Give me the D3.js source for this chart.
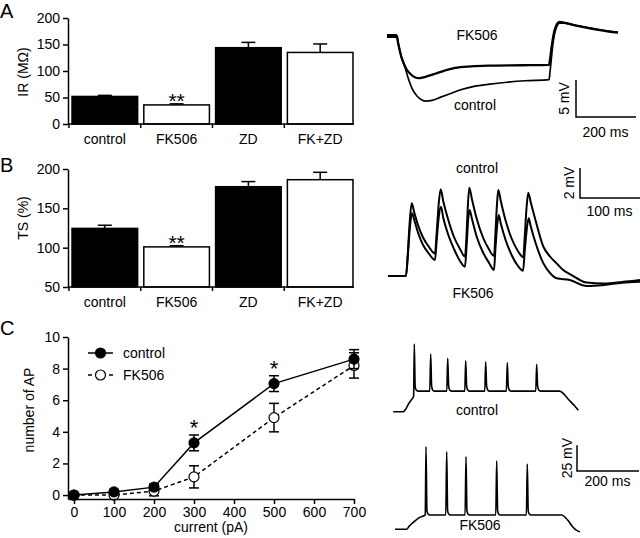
<!DOCTYPE html>
<html><head><meta charset="utf-8">
<script src="https://cdn.jsdelivr.net/npm/d3@7"></script>
<style>
body{margin:0;background:#fff}
svg{display:block}
text{font-family:"Liberation Sans",Arial,Helvetica,sans-serif;fill:#000}
</style>
</head><body>
<svg id="c" width="640" height="538"></svg>
<script>
// ---------------- DATA ----------------
const groups = ["control", "FK506", "ZD", "FK+ZD"];
const irMean = [52, 36, 144, 135];
const irErr = [2, 2, 10, 16];
const irTicks = [0, 50, 100, 150, 200];
const tsMean = [124.5, 101, 177.5, 186.4];
const tsErr = [4, 1.5, 6.5, 9.4];
const tsTicks = [50, 100, 150, 200];

const currents = [0, 100, 200, 300, 500, 700];
const apControl = [0, 0.2, 0.5, 3.3, 7.05, 8.6];
const apControlErr = [0.1, 0.15, 0.2, 0.5, 0.5, 0.6];
const apFK = [0, 0.0, 0.25, 1.15, 4.9, 8.2];
const apFKErr = [0.05, 0.1, 0.3, 0.7, 0.9, 0.8];
const currentTicks = [0, 100, 200, 300, 400, 500, 600, 700];
const apTicks = [0, 2, 4, 6, 8, 10];
const apSig = [300, 500];

// traces: [time ms, mV]
const traceA_FK = [[0,0],[33,0],[36,-0.7],[40,-1.5],[47,-2.7],[55,-3.6],[65,-4.5],[80,-5.2],[95,-5.6],[105,-5.7],[120,-5.6],[137,-5.4],[160,-5.1],[190,-4.7],[227,-4.3],[280,-4.1],[350,-4.0],[450,-3.95],[540,-3.9],[543,-3.3],[547,-2.0],[552,-0.6],[558,0.7],[565,1.5],[575,1.9],[590,1.8],[620,1.5],[660,1.15],[700,0.85],[740,0.6],[770,0.45]];
const traceA_ctrl = [[0,0],[33,0],[36,-0.7],[40,-1.5],[47,-2.7],[53,-3.5],[59,-4.1],[70,-5.6],[85,-7.2],[100,-8.1],[115,-8.6],[130,-8.8],[150,-8.7],[177,-8.3],[210,-7.8],[243,-7.3],[290,-6.8],[343,-6.5],[400,-6.25],[460,-6.05],[540,-5.9],[543,-5.0],[547,-3.4],[552,-1.4],[558,0.2],[565,1.2],[575,1.75],[590,1.75],[620,1.5],[660,1.2],[700,0.9],[740,0.65],[770,0.5]];

const traceB_ctrl = [[0,0],[30,0],[33,1.5],[36,3.5],[39.5,4.85],[44,4.2],[50,3.4],[58,2.6],[68,1.95],[78.3,1.5],[81,2.8],[84.5,4.8],[87.8,5.78],[92,5.0],[100,3.8],[110,2.6],[120,1.8],[128.3,1.3],[131,2.8],[133,4.6],[135.5,5.89],[140,5.1],[148,3.8],[158,2.6],[168,1.8],[176.7,1.33],[179,2.8],[181.5,4.7],[183.8,5.73],[188,5.0],[196,3.7],[206,2.5],[216,1.7],[225.5,1.25],[228,2.7],[231,4.6],[233.8,5.55],[238,4.9],[246,3.7],[259,1.95],[270,1.3],[281,0.84],[292,0.4],[303,0.13],[317,-0.2],[331,-0.44],[360,-0.5],[390,-0.4],[420,-0.27]];
const traceB_FK = [[0,0],[30,0],[33,1.3],[36,3.0],[40,4.18],[44,3.7],[50,2.9],[58,2.1],[68,1.5],[78.3,1.07],[81,2.3],[84.5,3.9],[88.3,4.62],[92,3.9],[100,2.8],[110,1.8],[120,1.0],[128.3,0.62],[131,2.0],[133.5,3.7],[136,4.4],[140,3.8],[148,2.6],[158,1.6],[168,0.9],[176.7,0.4],[179,1.8],[182,3.4],[184.5,4.07],[188,3.5],[196,2.4],[206,1.4],[216,0.7],[225,0.35],[228,1.7],[231.5,3.2],[234.5,3.85],[238,3.3],[246,2.2],[259,0.84],[270,0.2],[281,-0.15],[303,-0.27],[331,-0.67],[360,-0.6],[390,-0.45],[420,-0.38]];

const traceC_ctrl = [[1,0],[33,0],[42,3],[50,7.5],[58,11],[64,13.5],[66.5,15],[68.7,65.7],[71.5,24],[75,21],[80,20],
 [118.6,20],[121.6,56],[124.6,25],[128,21],[133,20],
 [173.5,20],[176.5,51.8],[179.5,25],[183,21],[188,20],
 [231.5,20],[234.5,49.5],[237.5,25],[241,21],[246,20],
 [296,20],[299,48.5],[302,25],[305.5,21],[310,20],
 [365.7,20],[368.7,47.6],[371.7,25],[375,21],[380,20],
 [460.5,20],[463.5,46],[466.5,25],[470,21],[475,20],
 [538,20],[548,18],[560,14],[572,10],[585,6],[598,1.5]];
const traceC_FK = [[6.5,0],[44,0],[52,3],[64.5,6.5],[76,9.5],[88,11.8],[100,13.2],[104,13.9],[106.5,80.2],[109.5,18],[113,14.8],[118,13.9],
 [170.2,13.9],[173.2,75.3],[176.2,18],[179.7,14.8],[185,13.9],
 [232.5,13.9],[235.5,70.5],[238.5,18],[242,14.8],[247,13.9],
 [331.5,13.9],[334.5,66.6],[337.5,18],[341,14.8],[346,13.9],
 [430.2,13.9],[433.2,63.3],[436.2,18],[439.7,14.8],[445,13.9],
 [544,13.9],[554,12],[566,8],[578,3],[590,-0.5],[603,-2.5]];

// ---------------- DRAW ----------------
const svg = d3.select("#c");
const FS = 14;

function letter(t, y) {
  svg.append("text").attr("x", 0).attr("y", y).attr("font-size", 20).text(t);
}

function barPanel(means, errs, yDom, yRng, ticks, yLabel, labelCY, xLabY) {
  const g = svg.append("g");
  const x = d3.scaleBand().domain(groups).range([68, 357]).paddingInner(0.086).paddingOuter(0.056);
  const y = d3.scaleLinear().domain(yDom).range(yRng);
  const gap = x.step() * x.paddingInner();
  g.selectAll("rect").data(groups).join("rect")
    .attr("x", d => x(d)).attr("width", x.bandwidth())
    .attr("y", (d, i) => y(means[i])).attr("height", (d, i) => y(yDom[0]) - y(means[i]))
    .attr("fill", (d, i) => i % 2 ? "#fff" : "#000")
    .attr("stroke", "#000").attr("stroke-width", 1.5);
  groups.forEach((d, i) => {
    const cx = x(d) + x.bandwidth() / 2;
    g.append("line").attr("x1", cx).attr("x2", cx).attr("y1", y(means[i])).attr("y2", y(means[i] + errs[i]))
      .attr("stroke", "#000").attr("stroke-width", 1.5);
    g.append("line").attr("x1", cx - 7).attr("x2", cx + 7).attr("y1", y(means[i] + errs[i])).attr("y2", y(means[i] + errs[i]))
      .attr("stroke", "#000").attr("stroke-width", 1.5);
  });
  const fi = 1;
  g.append("text").attr("x", x(groups[fi]) + x.bandwidth() / 2).attr("y", y(means[fi] + errs[fi]) + 4)
    .attr("text-anchor", "middle").attr("font-size", 21).text("**");
  const ya = g.append("g").attr("transform", "translate(68,0)")
    .call(d3.axisLeft(y).tickValues(ticks).tickSize(5).tickSizeOuter(0).tickPadding(3));
  ya.selectAll("path,line").attr("stroke", "#000").attr("stroke-width", 1.5);
  ya.selectAll("text").attr("font-size", FS).attr("font-family", null);
  const by = y(yDom[0]);
  g.append("line").attr("x1", 68).attr("x2", 354).attr("y1", by).attr("y2", by).attr("stroke", "#000").attr("stroke-width", 1.5);
  groups.forEach(d => {
    const tx = x(d) - gap / 2;
    g.append("line").attr("x1", tx).attr("x2", tx).attr("y1", by).attr("y2", by + 4).attr("stroke", "#000").attr("stroke-width", 1.5);
    g.append("text").attr("x", x(d) + x.bandwidth() / 2).attr("y", xLabY).attr("text-anchor", "middle").attr("font-size", FS).text(d);
  });
  g.append("text").attr("transform", `translate(28,${labelCY}) rotate(-90)`).attr("text-anchor", "middle").attr("font-size", FS).text(yLabel);
}

letter("A", 18);
barPanel(irMean, irErr, [0, 200], [124, 18], irTicks, "IR (MΩ)", 72, 144);
letter("B", 171.5);
barPanel(tsMean, tsErr, [50, 200], [287, 169], tsTicks, "TS (%)", 218, 306.5);
letter("C", 334.5);

// ---- panel C line chart ----
(function () {
  const g = svg.append("g");
  const x = d3.scaleLinear().domain([-15, 700]).range([68, 354]);
  const y = d3.scaleLinear().domain([-0.25, 10]).range([499, 337]);
  const line = d3.line().x((d, i) => x(currents[i])).y(d => y(d));
  const series = [
    {v: apFK, e: apFKErr, dash: "4,3", fill: "#fff"},
    {v: apControl, e: apControlErr, dash: null, fill: "#000"}
  ];
  series.forEach(s => {
    g.append("path").datum(s.v).attr("d", line).attr("fill", "none").attr("stroke", "#000")
      .attr("stroke-width", 1.5).attr("stroke-dasharray", s.dash);
    s.v.forEach((v, i) => {
      const cx = x(currents[i]);
      const y1 = y(v - s.e[i]), y2 = y(v + s.e[i]);
      g.append("line").attr("x1", cx).attr("x2", cx).attr("y1", y1).attr("y2", y2).attr("stroke", "#000").attr("stroke-width", 1.5);
      [y1, y2].forEach(yy => g.append("line").attr("x1", cx - 5).attr("x2", cx + 5).attr("y1", yy).attr("y2", yy).attr("stroke", "#000").attr("stroke-width", 1.5));
    });
    g.selectAll(null).data(s.v).join("circle")
      .attr("cx", (d, i) => x(currents[i])).attr("cy", d => y(d)).attr("r", 5)
      .attr("fill", s.fill).attr("stroke", "#000").attr("stroke-width", 1.2);
  });
  apSig.forEach(c => {
    const i = currents.indexOf(c);
    g.append("text").attr("x", x(c)).attr("y", y(apControl[i] + apControlErr[i]) + 0).attr("text-anchor", "middle").attr("font-size", 22).text("*");
  });
  const xa = g.append("g").attr("transform", "translate(0,499)")
    .call(d3.axisBottom(x).tickValues(currentTicks).tickSize(5).tickSizeOuter(0).tickPadding(3));
  const ya = g.append("g").attr("transform", "translate(68,0)")
    .call(d3.axisLeft(y).tickValues(apTicks).tickSize(5).tickSizeOuter(0).tickPadding(3));
  [xa, ya].forEach(a => {
    a.selectAll("path,line").attr("stroke", "#000").attr("stroke-width", 1.5);
    a.selectAll("text").attr("font-size", FS).attr("font-family", null);
  });
  g.append("text").attr("x", 211).attr("y", 532).attr("text-anchor", "middle").attr("font-size", FS).text("current (pA)");
  g.append("text").attr("transform", "translate(34,410) rotate(-90)").attr("text-anchor", "middle").attr("font-size", FS).text("number of AP");
  const leg = [{t: "control", dash: null, fill: "#000", y: 353}, {t: "FK506", dash: "4,3", fill: "#fff", y: 375}];
  leg.forEach(l => {
    g.append("line").attr("x1", 88).attr("x2", 113).attr("y1", l.y).attr("y2", l.y).attr("stroke", "#000").attr("stroke-width", 1.5).attr("stroke-dasharray", l.dash);
    g.append("circle").attr("cx", 100.5).attr("cy", l.y).attr("r", 5).attr("fill", l.fill).attr("stroke", "#000").attr("stroke-width", 1.2);
    g.append("text").attr("x", 123).attr("y", l.y + 5).attr("font-size", FS).text(l.t);
  });
})();

// ---- traces ----
function trace(data, xs, ys, w) {
  svg.append("path").datum(data)
    .attr("d", d3.line().x(d => xs(d[0])).y(d => ys(d[1])).curve(d3.curveMonotoneX))
    .attr("fill", "none").attr("stroke", "#000").attr("stroke-width", w).attr("stroke-linejoin", "round");
}
function scaleBar(cx, cy, vLen, hLen, vText, hText, vTextX, hTextY) {
  svg.append("path").attr("d", `M${cx},${cy - vLen}V${cy}H${cx + hLen}`).attr("fill", "none").attr("stroke", "#000").attr("stroke-width", 1.5);
  svg.append("text").attr("transform", `translate(${vTextX},${cy - vLen / 2}) rotate(-90)`).attr("text-anchor", "middle").attr("font-size", FS).text(vText);
  svg.append("text").attr("x", cx + hLen / 2 - 0.5).attr("y", hTextY).attr("text-anchor", "middle").attr("font-size", FS).text(hText);
}
function label(t, x, y) {
  svg.append("text").attr("x", x).attr("y", y).attr("text-anchor", "middle").attr("font-size", FS).text(t);
}

{
  const xs = d3.scaleLinear().domain([0, 770]).range([387, 618]);
  const ys = d3.scaleLinear().domain([0, -10]).range([36, 110]);
  trace(traceA_ctrl, xs, ys, 1.7);
  trace(traceA_FK, xs, ys, 2.3);
  svg.append("rect").attr("x", xs(0)).attr("y", ys(0) - 2).attr("width", xs(33) - xs(0)).attr("height", 4).attr("fill", "#000");
  label("FK506", 477, 40);
  label("control", 475, 110);
  scaleBar(576, 117, ys(-5) - ys(0), xs(200) - xs(0), "5 mV", "200 ms", 569, 137);
}
{
  const xs = d3.scaleLinear().domain([0, 420]).range([388, 640]);
  const ys = d3.scaleLinear().domain([0, 5]).range([276, 201]);
  trace(traceB_ctrl, xs, ys, 2);
  trace(traceB_FK, xs, ys, 2);
  label("control", 477, 173);
  label("FK506", 473, 298);
  scaleBar(580, 198, ys(0) - ys(2), xs(100) - xs(0), "2 mV", "100 ms", 574, 216);
}
{
  const xs = d3.scaleLinear().domain([0, 600]).range([393, 579]);
  const ysCtrl = d3.scaleLinear().domain([0, 60]).range([411.7, 349.9]);
  const ysFK = d3.scaleLinear().domain([0, 60]).range([529.3, 467.5]);
  trace(traceC_ctrl, xs, ysCtrl, 1.6);
  trace(traceC_FK, xs, ysFK, 1.6);
  label("control", 477, 415);
  label("FK506", 480, 530);
  scaleBar(577, 471, ysCtrl(0) - ysCtrl(25), xs(200) - xs(0), "25 mV", "200 ms", 571.5, 486);
}
</script>
</body></html>
